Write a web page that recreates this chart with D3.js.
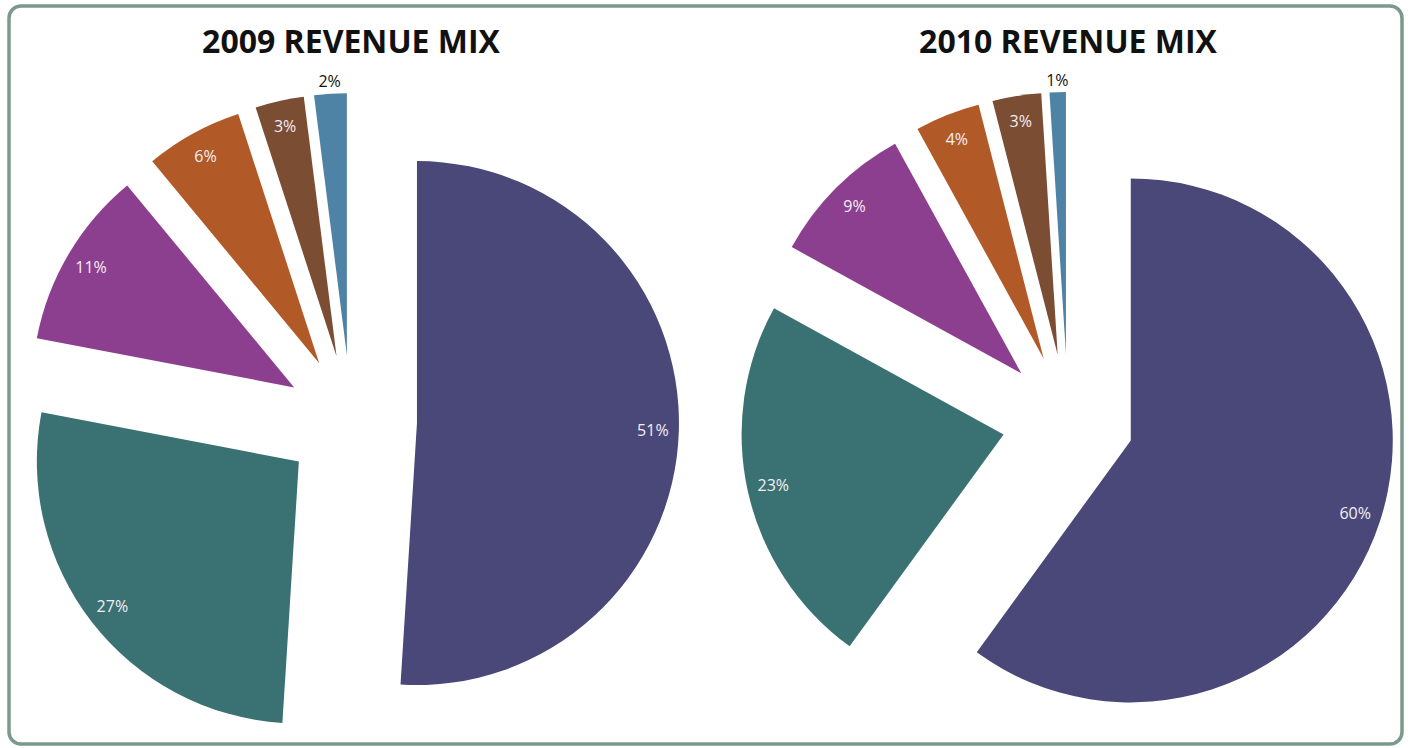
<!DOCTYPE html>
<html>
<head>
<meta charset="utf-8">
<script src="https://cdn.jsdelivr.net/npm/d3@7"></script>
<style>
  html, body { margin: 0; padding: 0; background: #ffffff; }
  svg { display: block; }
</style>
</head>
<body>
<svg id="chart" width="1411" height="748"></svg>
<script>
// Revenue mix by segment, share of total (%)
const segments = ["Segment A", "Segment B", "Segment C", "Segment D", "Segment E", "Segment F"];
const mix2009 = [51, 27, 11, 6, 3, 2];
const mix2010 = [60, 23, 9, 4, 3, 1];
const titles = ["2009 REVENUE MIX", "2010 REVENUE MIX"];
const colors = ["#4a4879", "#3a7172", "#8d3f8f", "#b25a27", "#7b4d33", "#4f83a5"];

const svg = d3.select("#chart");
const W = 1411, H = 748;

// rounded frame
svg.append("rect")
  .attr("x", 9).attr("y", 6)
  .attr("width", W - 18).attr("height", H - 10)
  .attr("rx", 12).attr("ry", 12)
  .attr("fill", "#ffffff")
  .attr("stroke", "#7b9a8b")
  .attr("stroke-width", 3.5);

const radius = 262;
const explode = 66;
const insideR = 236;
const outsideR = 274;

const pie = d3.pie().sort(null).value(d => d.value).startAngle(0).endAngle(2 * Math.PI);
const arc = d3.arc().innerRadius(0).outerRadius(radius);
const colorScale = d3.scaleOrdinal().domain(segments).range(colors);

const panels = [
  { title: titles[0], values: mix2009, cx: 351, cy: 421 },
  { title: titles[1], values: mix2010, cx: 1068, cy: 420 }
];

panels.forEach(p => {
  const data = segments.map((s, i) => ({ name: s, value: p.values[i] }));
  const g = svg.append("g").attr("transform", `translate(${p.cx},${p.cy})`);

  g.append("text")
    .attr("x", 0).attr("y", 53 - p.cy)
    .attr("text-anchor", "middle")
    .attr("font-family", "'Open Sans', sans-serif")
    .attr("font-weight", 700)
    .attr("font-size", 32)
    .attr("fill", "#111111")
    .text(p.title);

  const slices = g.selectAll("g.slice")
    .data(pie(data))
    .join("g")
    .attr("class", "slice")
    .attr("transform", d => {
      const a = (d.startAngle + d.endAngle) / 2;
      return `translate(${explode * Math.sin(a)},${-explode * Math.cos(a)})`;
    });

  slices.append("path")
    .attr("d", arc)
    .attr("fill", d => colorScale(d.data.name));

  slices.append("text")
    .attr("transform", d => {
      const a = (d.startAngle + d.endAngle) / 2;
      const r = d.data.value <= 2 ? outsideR : insideR;
      return `translate(${r * Math.sin(a)},${-r * Math.cos(a)})`;
    })
    .attr("dy", "0.35em")
    .attr("text-anchor", "middle")
    .attr("font-family", "'Open Sans', sans-serif")
    .attr("font-size", 16)
    .attr("fill", d => d.data.value <= 2 ? "#111111" : "#f4eef6")
    .text(d => d.data.value + "%");
});
</script>
</body>
</html>
